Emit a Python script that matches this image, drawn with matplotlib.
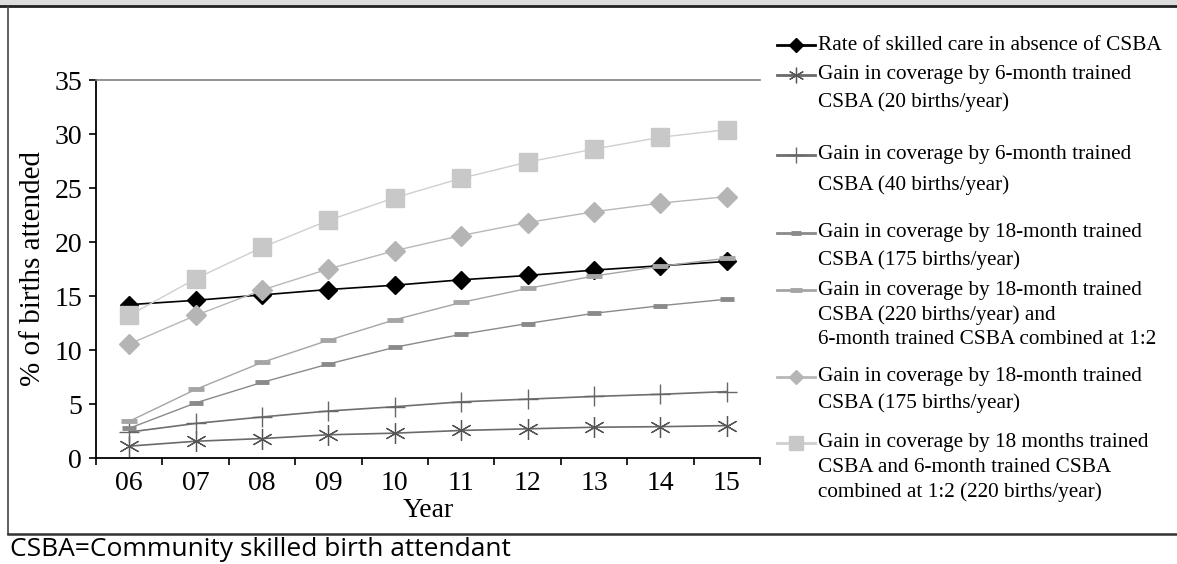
import numpy as np
import matplotlib
matplotlib.use("Agg")
import matplotlib.pyplot as plt
from matplotlib.lines import Line2D

years = ["06", "07", "08", "09", "10", "11", "12", "13", "14", "15"]

rate_no_csba = [14.2, 14.6, 15.1, 15.6, 16.0, 16.5, 16.9, 17.4, 17.8, 18.2]
gain_6m_20 = [1.1, 1.55, 1.8, 2.15, 2.3, 2.55, 2.7, 2.85, 2.9, 3.0]
gain_6m_40 = [2.4, 3.2, 3.8, 4.35, 4.75, 5.2, 5.45, 5.7, 5.9, 6.15]
gain_18m_175 = [2.75, 5.1, 7.0, 8.7, 10.25, 11.45, 12.45, 13.4, 14.1, 14.7]
gain_18m_220_mix = [3.4, 6.35, 8.85, 10.9, 12.8, 14.4, 15.7, 16.85, 17.75, 18.5]
gain_18m_175b = [10.55, 13.2, 15.55, 17.5, 19.2, 20.6, 21.8, 22.8, 23.6, 24.2]
gain_18m_6m_220 = [13.2, 16.6, 19.5, 22.0, 24.1, 25.9, 27.4, 28.6, 29.7, 30.4]

labels = [
    ["Rate of skilled care in absence of CSBA"],
    ["Gain in coverage by 6-month trained", "CSBA (20 births/year)"],
    ["Gain in coverage by 6-month trained", "CSBA (40 births/year)"],
    ["Gain in coverage by 18-month trained", "CSBA (175 births/year)"],
    ["Gain in coverage by 18-month trained", "CSBA (220 births/year) and",
     "6-month trained CSBA combined at 1:2"],
    ["Gain in coverage by 18-month trained", "CSBA (175 births/year)"],
    ["Gain in coverage by 18 months trained", "CSBA and 6-month trained CSBA",
     "combined at 1:2 (220 births/year)"],
]

series = [rate_no_csba, gain_6m_20, gain_6m_40, gain_18m_175,
          gain_18m_220_mix, gain_18m_175b, gain_18m_6m_220]

# line colour, marker, marker colour, marker size, marker edge width
styles = [
    dict(color="black", marker="D", mfc="black", mec="black", ms=9, mew=1, lw=1.2),
    dict(color="#6a6a6a", marker=(6, 2, 0), mfc="#555555", mec="#555555", ms=15, mew=0.9, lw=1.2),
    dict(color="#6f6f6f", marker="+", mfc="#666666", mec="#666666", ms=15, mew=1.0, lw=1.2),
    dict(color="#8a8a8a", marker="_", mfc="#8a8a8a", mec="#8a8a8a", ms=10, mew=3.5, lw=1.0),
    dict(color="#a5a5a5", marker="_", mfc="#a5a5a5", mec="#a5a5a5", ms=12, mew=3.5, lw=1.0),
    dict(color="#b8b8b8", marker="D", mfc="#b5b5b5", mec="#b5b5b5", ms=10, mew=1, lw=1.0),
    dict(color="#cfcfcf", marker="s", mfc="#c8c8c8", mec="#c8c8c8", ms=13, mew=1, lw=1.0),
]

serif = "Liberation Serif"

fig = plt.figure(figsize=(11.77, 5.64), dpi=100)
ax = fig.add_axes([96 / 1177, 1 - 458 / 564, (760 - 96) / 1177, (458 - 80) / 564])

x = np.arange(len(years))
for s, st in zip(series, styles):
    ax.plot(x, s, color=st["color"], lw=st["lw"], marker=st["marker"],
            markerfacecolor=st["mfc"], markeredgecolor=st["mec"],
            markersize=st["ms"], markeredgewidth=st["mew"], clip_on=False)

ax.set_xlim(-0.5, len(years) - 0.5)
ax.set_ylim(0, 35)
ax.set_yticks(np.arange(0, 36, 5))
ax.set_xticks(x)
ax.set_xticklabels(years)
ax.set_xticks(np.arange(-0.5, len(years), 1), minor=True)
ax.tick_params(axis="x", which="major", length=0, pad=9, labelsize=20)
ax.tick_params(axis="x", which="minor", length=5, width=1.2, direction="out")
ax.tick_params(axis="y", length=5, width=1.2, labelsize=20, pad=5)
for lab in ax.get_xticklabels() + ax.get_yticklabels():
    lab.set_fontfamily(serif)

ax.spines["right"].set_visible(False)
ax.spines["top"].set_color("#808080")
ax.spines["top"].set_linewidth(1.2)
ax.spines["left"].set_linewidth(1.3)
ax.spines["bottom"].set_linewidth(1.3)

ax.set_xlabel("Year", fontsize=20, fontfamily=serif, labelpad=2)
ax.set_ylabel("% of births attended", fontsize=21, fontfamily=serif, labelpad=6)

# legend drawn by hand to keep the uneven spacing of the original
line_y = [
    [45],
    [75, 102],
    [155, 185],
    [233, 260],
    [290, 315, 340],
    [377, 403],
    [443, 467, 492],
]
for lines, ys, st in zip(labels, line_y, styles):
    hy = 1 - ys[0] / 564
    fig.add_artist(Line2D([777 / 1177, 815 / 1177], [hy, hy], transform=fig.transFigure,
                          color=st["color"], lw=2.0))
    fig.add_artist(Line2D([796 / 1177], [hy], transform=fig.transFigure,
                          marker=st["marker"], markerfacecolor=st["mfc"],
                          markeredgecolor=st["mec"], markersize=st["ms"] * 0.75,
                          markeredgewidth=st["mew"], linestyle="none"))
    for t, yy in zip(lines, ys):
        fig.text(818 / 1177, 1 - yy / 564, t, fontsize=15.3, fontfamily=serif,
                 va="center", ha="left")

# frame of the figure panel
fig.add_artist(plt.Rectangle((0, 1 - 6 / 564), 1, 6 / 564, transform=fig.transFigure,
                             facecolor="#dcdcdc", edgecolor="none"))
fig.add_artist(Line2D([0, 1], [1 - 6 / 564, 1 - 6 / 564], transform=fig.transFigure,
                      color="#222222", lw=2))
fig.add_artist(Line2D([8 / 1177, 8 / 1177], [1 - 6 / 564, 1 - 534 / 564],
                      transform=fig.transFigure, color="#444444", lw=1.2))
fig.add_artist(Line2D([8 / 1177, 1], [1 - 534 / 564, 1 - 534 / 564],
                      transform=fig.transFigure, color="#333333", lw=1.8))

fig.text(10 / 1177, 1 - 550 / 564, "CSBA=Community skilled birth attendant",
         fontsize=19, fontfamily="Open Sans", va="center", ha="left")

fig.savefig("out.png", dpi=100)
